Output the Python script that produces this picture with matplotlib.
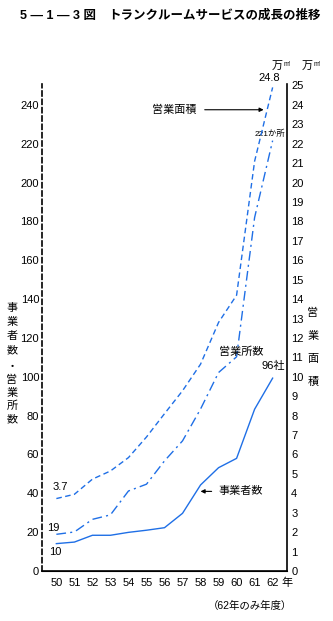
import matplotlib
matplotlib.use("Agg")
import matplotlib.pyplot as plt

plt.rcParams["font.family"] = ["Liberation Sans", "Noto Sans CJK JP"]

years = [50, 51, 52, 53, 54, 55, 56, 57, 58, 59, 60, 61, 62]
year_labels = [str(y) for y in years]

# 事業者数 (社)
operators = [14.1, 14.9, 18.4, 18.4, 19.9, 21.0, 22.3, 29.7, 44.3, 53.2, 58.0, 83.3, 99.3]
# 営業所数 (か所)
offices = [18.9, 20.1, 26.6, 28.9, 41.2, 44.7, 56.7, 67.0, 83.4, 102.2, 110.3, 182.0, 221.6]
# 営業面積 (万m²)
area = [3.73, 3.95, 4.73, 5.15, 5.84, 6.9, 8.1, 9.28, 10.65, 12.8, 14.2, 21.1, 24.9]

left_ticks = list(range(0, 241, 20))
right_ticks = list(range(0, 26))

blue = "#1f6fe6"

fig = plt.figure(figsize=(3.33, 6.21), dpi=100)
ax = fig.add_axes([0.126, 0.0805, 0.736, 0.785])
ax2 = ax.twinx()

ax.plot(years, operators, color=blue, lw=1.0)
ax.plot(years, offices, color=blue, lw=1.0, dashes=(7, 3, 1.5, 3))
ax2.plot(years, area, color=blue, lw=1.0, dashes=(4, 2.5))

ax.set_xlim(49.2, 62.8)
ax.set_ylim(0, 251)
ax2.set_ylim(0, 25.1)

ax.set_xticks(years)
ax.set_xticklabels(year_labels, fontsize=8)
ax.set_yticks(left_ticks)
ax.set_yticklabels([str(t) for t in left_ticks], fontsize=8)
ax2.set_yticks(right_ticks)
ax2.set_yticklabels([str(t) for t in right_ticks], fontsize=8)

for a in (ax, ax2):
    a.tick_params(length=0, pad=2)
    a.spines["top"].set_visible(False)
ax.tick_params(axis="x", pad=5)
ax2.tick_params(axis="y", pad=3)
ax.spines["left"].set_linestyle((0, (3, 2)))
ax.spines["left"].set_linewidth(1.2)
ax2.spines["left"].set_visible(False)
ax2.spines["right"].set_linewidth(1.2)
ax.spines["right"].set_visible(False)
ax.spines["bottom"].set_linewidth(1.2)

# title
fig.text(0.06, 0.975, "5 — 1 — 3 図", fontsize=9, fontweight="bold", va="center")
fig.text(0.325, 0.975, "トランクルームサービスの成長の推移", fontsize=9,
         fontweight="bold", va="center")

# axis titles (vertical)
for i, ch in enumerate("事業者数"):
    fig.text(0.036, 1 - (308 + i * 14) / 621, ch, fontsize=8, ha="center", va="center")
fig.text(0.036, 1 - 367 / 621, "・", fontsize=8, ha="center", va="center")
for i, ch in enumerate("営業所数"):
    fig.text(0.036, 1 - (380 + i * 13) / 621, ch, fontsize=8, ha="center", va="center")
for i, ch in enumerate("営業面積"):
    fig.text(0.94, 1 - (313 + i * 23) / 621, ch, fontsize=8, ha="center", va="center")

# units
fig.text(272 / 333, 1 - 66 / 621, "万", fontsize=8, ha="left", va="center")
fig.text(284 / 333, 1 - 64 / 621, "m'", fontsize=5, ha="left", va="center")
fig.text(302 / 333, 1 - 66 / 621, "万", fontsize=8, ha="left", va="center")
fig.text(314 / 333, 1 - 64 / 621, "m'", fontsize=5, ha="left", va="center")
fig.text(287 / 333, 1 - 583 / 621, "年", fontsize=8, ha="center", va="center")
fig.text(250 / 333, 1 - 606 / 621, "（62年のみ年度）", fontsize=7.5, ha="center", va="center")

# annotations
ax2.text(62.4, 25.4, "24.8", fontsize=8, ha="right", va="center")
ax.text(62.7, 223, "221か所", fontsize=6, ha="right", va="bottom")
ax.text(62.7, 103, "96社", fontsize=8, ha="right", va="bottom")
ax.text(49.8, 43, "3.7", fontsize=8, ha="left", va="center")
ax.text(49.5, 22, "19", fontsize=8, ha="left", va="center")
ax.text(49.6, 10, "10", fontsize=8, ha="left", va="center")
ax.text(59.0, 113, "営業所数", fontsize=8, ha="left", va="center")
ax.annotate("営業面積", xy=(61.5, 237.5), xytext=(55.3, 237.5),
            fontsize=8, ha="left", va="center",
            arrowprops=dict(arrowstyle="-|>", color="black", lw=0.8,
                            shrinkA=4, shrinkB=0, mutation_scale=6))
ax.annotate("事業者数", xy=(58.0, 41), xytext=(59.0, 41),
            fontsize=8, ha="left", va="center",
            arrowprops=dict(arrowstyle="-|>", color="black", lw=0.8,
                            shrinkA=3, shrinkB=0, mutation_scale=6))

fig.savefig("out.png", dpi=100)
